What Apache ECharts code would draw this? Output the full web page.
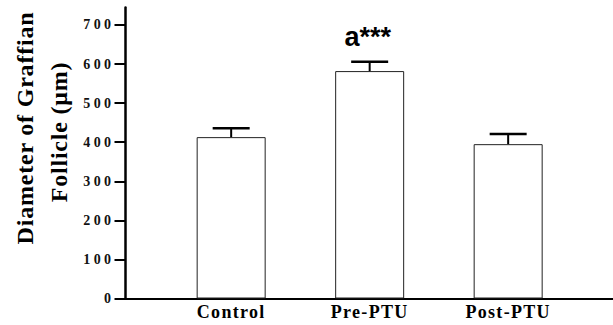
<!DOCTYPE html>
<html>
<head>
<meta charset="utf-8">
<script src="https://cdn.jsdelivr.net/npm/echarts@6/dist/echarts.min.js"></script>
<style>
html,body{margin:0;padding:0;background:#fff;}
#main{width:613px;height:325px;}
</style>
</head>
<body>
<div id="main"></div>
<script>
const categories = ['Control', 'Pre-PTU', 'Post-PTU'];
const means = [413, 582, 395];
const sems = [23, 24, 26];
const notes = ['', 'a***', ''];
const yTicks = [0, 100, 200, 300, 400, 500, 600, 700];
const titleLine1 = 'Diameter of Graffian';
const titleLine2 = 'Follicle (\u03bcm)';

const serif = '"Liberation Serif", "Times New Roman", serif';
const sans = '"Liberation Sans", Arial, sans-serif';

const chart = echarts.init(document.getElementById('main'), null, {renderer: 'svg'});

const barData = means.map((m, i) => [i, m]);
const errData = means.map((m, i) => [i, m, sems[i]]);

chart.setOption({
  animation: false,
  backgroundColor: '#fff',
  grid: {left: 125.5, right: 0, top: 7.4, bottom: 26.5, containLabel: false, outerBoundsMode: 'none'},
  xAxis: {
    type: 'value', min: -0.763, max: 2.757,
    axisLine: {show: true, onZero: false, lineStyle: {color: '#000', width: 2}},
    axisTick: {show: false},
    splitLine: {show: false},
    axisLabel: {
      customValues: [0, 1, 2],
      formatter: v => categories[Math.round(v)],
      fontFamily: serif, fontWeight: 'bold', fontSize: 18, color: '#000', margin: 4
    }
  },
  yAxis: {
    type: 'value', min: 0, max: 745,
    axisLine: {show: true, onZero: false, lineStyle: {color: '#000', width: 2.5}},
    axisTick: {show: true, customValues: yTicks, length: 11, lineStyle: {color: '#000', width: 2}},
    splitLine: {show: false},
    axisLabel: {customValues: yTicks, fontFamily: serif, fontWeight: 'bold', fontSize: 14, color: '#111', margin: 11}
  },
  graphic: [
    {type: 'text', x: 25, y: 128, rotation: Math.PI / 2,
     style: {text: titleLine1, font: 'bold 24px ' + serif, fill: '#000', textAlign: 'center', textVerticalAlign: 'middle', align: 'center', verticalAlign: 'middle'}},
    {type: 'text', x: 59, y: 132, rotation: Math.PI / 2,
     style: {text: titleLine2, font: 'bold 24px ' + serif, fill: '#000', textAlign: 'center', textVerticalAlign: 'middle', align: 'center', verticalAlign: 'middle'}}
  ],
  series: [
    {
      type: 'bar', data: barData, barWidth: 69, z: 1,
      itemStyle: {color: '#fff', borderColor: '#222', borderWidth: 1}
    },
    {
      type: 'custom', data: errData, z: 3,
      encode: {x: 0, y: 1},
      renderItem: function (params, api) {
        const x = api.value(0), m = api.value(1), s = api.value(2);
        const note = notes[params.dataIndex];
        const top = api.coord([x, m + s]);
        const base = api.coord([x, m]);
        const half = 18.5;
        const children = [
          {type: 'line', shape: {x1: top[0], y1: top[1], x2: base[0], y2: base[1]}, style: {stroke: '#000', lineWidth: 2}},
          {type: 'line', shape: {x1: top[0] - half, y1: top[1], x2: top[0] + half, y2: top[1]}, style: {stroke: '#000', lineWidth: 2.5}}
        ];
        if (note) {
          children.push({type: 'text', x: top[0] - 2, y: top[1] - 11,
            style: {text: note, font: 'bold 27px ' + sans, fill: '#000', textAlign: 'center', textVerticalAlign: 'bottom', align: 'center', verticalAlign: 'bottom'}});
        }
        return {type: 'group', children: children};
      }
    }
  ]
});

function applySpacing() {
  document.querySelectorAll('#main text').forEach(t => {
    const fs = Math.round(parseFloat(getComputedStyle(t).fontSize));
    let ls = 0;
    if (fs === 14) ls = 3.4;
    else if (fs === 18) ls = 1.3;
    else if (fs === 24) ls = 0.8;
    t.style.letterSpacing = ls + 'px';
  });
}
applySpacing();
chart.on('finished', applySpacing);
</script>
</body>
</html>
